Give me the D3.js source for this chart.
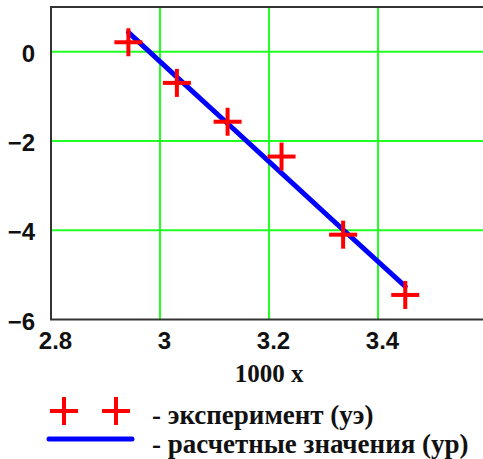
<!DOCTYPE html>
<html>
<head>
<meta charset="utf-8">
<script src="https://cdn.jsdelivr.net/npm/d3@7/dist/d3.min.js"></script>
<style>
  html, body { margin: 0; padding: 0; background: #fff; }
  svg { display: block; }
</style>
</head>
<body>
<svg id="chart" width="483" height="459"></svg>
<script>
// ---- data ----
const xExp = [2.942, 3.031, 3.124, 3.223, 3.336, 3.450];
const yExp = [0.21, -0.70, -1.57, -2.35, -4.10, -5.45];
const xCalc = [2.942, 3.031, 3.124, 3.223, 3.336, 3.450];
const yCalc = [0.43, -0.57, -1.61, -2.72, -3.99, -5.26];
const xTicks = [2.8, 3, 3.2, 3.4];
const yTicks = [-6, -4, -2, 0];
const xTitle = "1000 x";
const legendLabels = ["- эксперимент (уэ)", "- расчетные значения (ур)"];

(function () {
const svg = d3.select("#chart");
const mLeft = 51, mTop = 7, mBottom = 319.5;
const x = d3.scaleLinear().domain([2.8, 3.6]).range([mLeft, 487]);
const y = d3.scaleLinear().domain([-6, 1]).range([mBottom, mTop]);

const green = "#22ff22";
// grid
svg.append("g").selectAll("line").data(xTicks.filter(d => d > 2.8)).join("line")
  .attr("x1", d => x(d)).attr("x2", d => x(d)).attr("y1", mTop).attr("y2", mBottom)
  .attr("stroke", green).attr("stroke-width", 2);
svg.append("g").selectAll("line").data(yTicks.filter(d => d > -6)).join("line")
  .attr("y1", d => y(d)).attr("y2", d => y(d)).attr("x1", mLeft).attr("x2", 483)
  .attr("stroke", green).attr("stroke-width", 2);

// frame
svg.append("rect").attr("x", mLeft).attr("y", mTop).attr("width", 487 - mLeft).attr("height", mBottom - mTop)
  .attr("fill", "none").attr("stroke", "#333").attr("stroke-width", 2);

// axes (labels only)
const fmt = d3.format("");
const xAxis = svg.append("g").attr("transform", `translate(4,${mBottom + 9})`)
  .call(d3.axisBottom(x).tickValues(xTicks).tickSize(0).tickFormat(d => fmt(d)));
xAxis.select(".domain").remove();
xAxis.selectAll("text").attr("font-family", "Liberation Sans, Arial, sans-serif")
  .attr("font-size", 24).attr("font-weight", "bold").attr("fill", "#111");

const yAxis = svg.append("g").attr("transform", `translate(${mLeft - 13},0)`)
  .call(d3.axisLeft(y).tickValues(yTicks).tickSize(0).tickFormat(d => fmt(d)));
yAxis.select(".domain").remove();
yAxis.selectAll("text").attr("font-family", "Liberation Sans, Arial, sans-serif")
  .attr("font-size", 24).attr("font-weight", "bold").attr("fill", "#111")
  .attr("dy", "0.4em");

// x title
svg.append("text").attr("x", x(3.2)).attr("y", 382).attr("text-anchor", "middle")
  .attr("font-family", "Liberation Serif, Times New Roman, serif").attr("font-weight", "bold")
  .attr("font-size", 25).attr("fill", "#111").text(xTitle);

// calc line
svg.append("path").datum(xCalc.map((d, i) => [d, yCalc[i]]))
  .attr("d", d3.line().x(d => x(d[0])).y(d => y(d[1])))
  .attr("fill", "none").attr("stroke", "#0000ff").attr("stroke-width", 5).attr("stroke-linecap", "round");

// experiment markers
const plus = (g, cx, cy, h) => {
  g.append("line").attr("x1", cx - h).attr("x2", cx + h).attr("y1", cy).attr("y2", cy);
  g.append("line").attr("x1", cx).attr("x2", cx).attr("y1", cy - h).attr("y2", cy + h);
};
const mk = svg.append("g").attr("stroke", "#ff0000").attr("stroke-width", 4);
xExp.forEach((d, i) => plus(mk, x(d), y(yExp[i]), 14));

// legend
const lg = svg.append("g").attr("stroke", "#ff0000").attr("stroke-width", 4);
plus(lg, 64, 411, 14);
plus(lg, 116, 411, 14);
svg.append("line").attr("x1", 49).attr("x2", 132).attr("y1", 439).attr("y2", 439)
  .attr("stroke", "#0000ff").attr("stroke-width", 5).attr("stroke-linecap", "round");
svg.selectAll("text.leg").data(legendLabels).join("text").attr("class", "leg")
  .attr("x", 152).attr("y", (d, i) => 424 + i * 29)
  .attr("font-family", "Liberation Serif, Times New Roman, serif").attr("font-weight", "bold")
  .attr("font-size", 27).attr("fill", "#111").text(d => d);
})();
</script>
</body>
</html>
